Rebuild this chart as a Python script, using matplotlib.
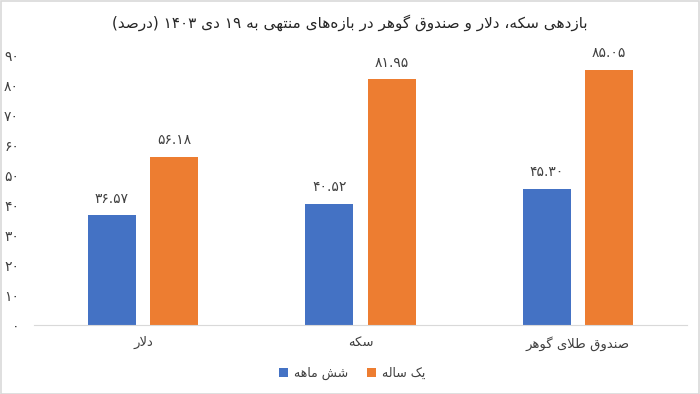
import matplotlib
matplotlib.use("Agg")
import matplotlib.pyplot as plt
from matplotlib.patches import Rectangle, Patch
import numpy as np

# ---------------- data ----------------
title_text = "بازدهی سکه، دلار و صندوق گوهر در بازه\u200cهای منتهی به ۱۹ دی ۱۴۰۳ (درصد)"
categories = ["دلار", "سکه", "صندوق طلای گوهر"]
series_names = ["شش ماهه", "یک ساله"]
six_month = [36.57, 40.52, 45.30]
one_year = [56.18, 81.95, 85.05]
y_ticks = [0, 10, 20, 30, 40, 50, 60, 70, 80, 90]

colors = ["#4472C4", "#ED7D31"]
text_color = "#404040"
tick_color = "#404040"

# ---------------- minimal Arabic/Persian shaping ----------------
_BLOCKS = [('\u0621', 0xFE80, 1), ('\u0622', 0xFE81, 2), ('\u0623', 0xFE83, 2), ('\u0624', 0xFE85, 2),
           ('\u0625', 0xFE87, 2), ('\u0626', 0xFE89, 4), ('\u0627', 0xFE8D, 2), ('\u0628', 0xFE8F, 4),
           ('\u0629', 0xFE93, 2), ('\u062A', 0xFE95, 4), ('\u062B', 0xFE99, 4), ('\u062C', 0xFE9D, 4),
           ('\u062D', 0xFEA1, 4), ('\u062E', 0xFEA5, 4), ('\u062F', 0xFEA9, 2), ('\u0630', 0xFEAB, 2),
           ('\u0631', 0xFEAD, 2), ('\u0632', 0xFEAF, 2), ('\u0633', 0xFEB1, 4), ('\u0634', 0xFEB5, 4),
           ('\u0635', 0xFEB9, 4), ('\u0636', 0xFEBD, 4), ('\u0637', 0xFEC1, 4), ('\u0638', 0xFEC5, 4),
           ('\u0639', 0xFEC9, 4), ('\u063A', 0xFECD, 4), ('\u0641', 0xFED1, 4), ('\u0642', 0xFED5, 4),
           ('\u0643', 0xFED9, 4), ('\u0644', 0xFEDD, 4), ('\u0645', 0xFEE1, 4), ('\u0646', 0xFEE5, 4),
           ('\u0647', 0xFEE9, 4), ('\u0648', 0xFEED, 2), ('\u0649', 0xFEEF, 2), ('\u064A', 0xFEF1, 4),
           ('\u067E', 0xFB56, 4), ('\u0686', 0xFB7A, 4), ('\u0698', 0xFB8A, 2), ('\u06A9', 0xFB8E, 4),
           ('\u06AF', 0xFB92, 4), ('\u06CC', 0xFBFC, 4)]
FORMS = {c: [chr(s + i) for i in range(n)] for c, s, n in _BLOCKS}
LAMALEF = {'\u0622': ('\uFEF5', '\uFEF6'), '\u0623': ('\uFEF7', '\uFEF8'),
           '\u0625': ('\uFEF9', '\uFEFA'), '\u0627': ('\uFEFB', '\uFEFC')}


def _dual(c):
    return c in FORMS and len(FORMS[c]) == 4


def _joins(c):
    return c in FORMS and c != '\u0621'


def shape(s):
    chars = list(s)
    n = len(chars)
    res = []
    i = 0
    while i < n:
        c = chars[i]
        if c == '\u200c':
            i += 1
            continue
        if c not in FORMS:
            res.append(c)
            i += 1
            continue
        prev = chars[i - 1] if i > 0 else None
        nxt = chars[i + 1] if i + 1 < n else None
        cp = prev is not None and _dual(prev) and _joins(c)
        if c == '\u0644' and nxt in LAMALEF:
            res.append(LAMALEF[nxt][1 if cp else 0])
            i += 2
            continue
        cn = _dual(c) and nxt is not None and _joins(nxt)
        f = FORMS[c]
        if cp and cn:
            g = f[3]
        elif cp:
            g = f[1]
        elif cn:
            g = f[2]
        else:
            g = f[0]
        res.append(g)
        i += 1
    # bidi: reverse, keeping digit runs LTR
    runs = []
    for ch in res:
        kind = ch.isdigit()
        if runs and runs[-1][0] == kind:
            runs[-1][1].append(ch)
        else:
            runs.append([kind, [ch]])
    mirror = {'(': ')', ')': '('}
    out = []
    for kind, chs in reversed(runs):
        if kind:
            out.extend(chs)
        else:
            out.extend(mirror.get(ch, ch) for ch in reversed(chs))
    return "".join(out)


_PD = str.maketrans("0123456789", "۰۱۲۳۴۵۶۷۸۹")


def fa_num(s):
    return str(s).translate(_PD)


# ---------------- plot ----------------
plt.rcParams['font.family'] = ['DejaVu Sans']
fig = plt.figure(figsize=(7.0, 3.94), dpi=100)
ax = fig.add_axes([0.049, 0.175, 0.932, 0.685])

x = np.arange(len(categories))
w = 0.22
off = 0.143
b1 = ax.bar(x - off, six_month, w, color=colors[0], zorder=2)
b2 = ax.bar(x + off, one_year, w, color=colors[1], zorder=2)

for bars, vals in ((b1, six_month), (b2, one_year)):
    for rect, v in zip(bars, vals):
        ax.annotate(fa_num(f"{v:.2f}"), (rect.get_x() + rect.get_width() / 2, v),
                    xytext=(0, 7), textcoords="offset points", ha="center", va="bottom",
                    fontsize=10, color=text_color)

ax.set_xlim(-0.5, len(categories) - 0.5)
ax.set_ylim(0, 90)
ax.set_yticks(y_ticks)
ax.set_yticklabels([fa_num(t) for t in y_ticks], fontsize=10, color=tick_color)
ax.set_xticks(x)
ax.set_xticklabels([shape(c) for c in categories], fontsize=9.5, color=text_color)
ax.tick_params(axis='both', length=0)
ax.tick_params(axis='y', pad=11)
ax.tick_params(axis='x', pad=8)
for sp in ("top", "right", "left"):
    ax.spines[sp].set_visible(False)
ax.spines["bottom"].set_color("#d9d9d9")

fig.text(0.5, 0.943, shape(title_text), ha="center", va="center", fontsize=11, color="#262626")

handles = [Patch(facecolor=colors[0]), Patch(facecolor=colors[1])]
fig.legend(handles, [shape(s) for s in series_names], loc="center", bbox_to_anchor=(0.503, 0.053),
           ncol=2, frameon=False, fontsize=9, handlelength=0.7, handleheight=0.7,
           handletextpad=0.5, columnspacing=1.5, labelcolor=text_color)

fig.patches.append(Rectangle((0.001, 0.001), 0.997, 0.997, transform=fig.transFigure,
                             fill=False, edgecolor="#d9d9d9", lw=1.2))

fig.savefig("out.png", dpi=100)
